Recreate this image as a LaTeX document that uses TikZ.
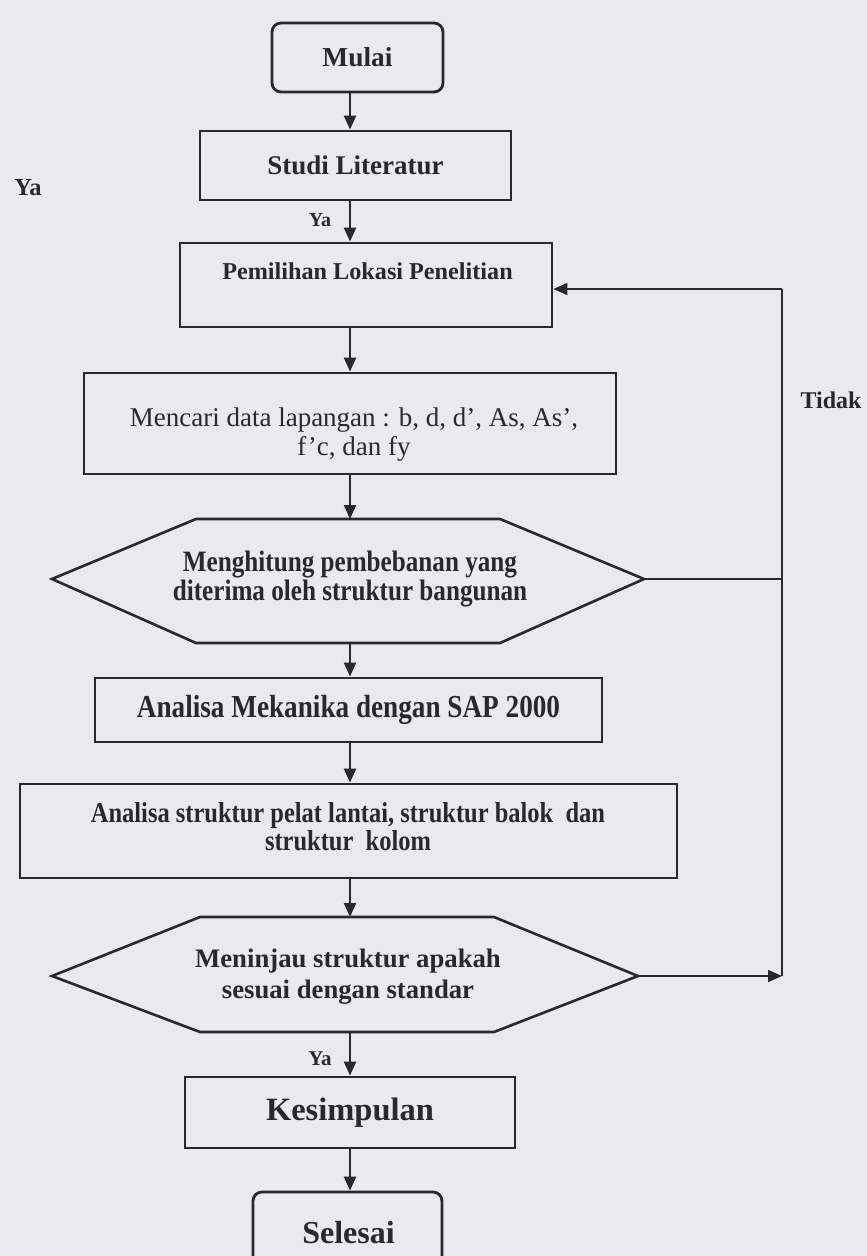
\documentclass[tikz,border=0pt]{standalone}
\usepackage{fontspec}
\setmainfont{Liberation Serif}
\newfontfamily\condfont[FakeStretch=0.85]{Liberation Serif}
\usetikzlibrary{arrows.meta,calc}
\definecolor{paper}{RGB}{234,234,238}
\definecolor{ink}{RGB}{40,40,45}
\begin{document}
\begin{tikzpicture}[x=1pt,y=-1pt,
  box/.style={draw=ink,line width=2.8pt,inner sep=0pt,text=ink,align=center},
  rbox/.style={box,rounded corners=9pt},
  hexline/.style={draw=ink,line width=2.6pt,line join=miter},
  arr/.style={draw=ink,line width=2.2pt,-{Triangle[length=14pt,width=12pt]}},
  arrthin/.style={draw=ink,line width=1.8pt,-{Triangle[length=14pt,width=12pt]}},
  thinline/.style={draw=ink,line width=1.8pt},
  txt/.style={text=ink,align=center,inner sep=0pt},
  lab/.style={text=ink,inner sep=0pt,font=\fontsize{20}{24}\selectfont\bfseries}
]
\useasboundingbox (0,0) rectangle (867,1256);
\fill[paper] (0,0) rectangle (867,1256);
\clip (0,0) rectangle (867,1256);

\coordinate (sp) at (350,0);

% boxes
\node[rbox,minimum width=171pt,minimum height=69pt,font=\fontsize{27.4}{32}\selectfont\bfseries] (mulai) at (357.5,57.5) {Mulai};
\node[box,minimum width=311pt,minimum height=69pt,font=\fontsize{27}{32}\selectfont\bfseries] (studi) at (355.5,165.5) {Studi Literatur};
\node[box,minimum width=372pt,minimum height=84pt] (pemilihan) at (366,285) {};
\node[txt,font=\fontsize{24.2}{29}\selectfont\bfseries] (pemilihantxt) at (367.5,271) {Pemilihan Lokasi Penelitian};
\node[box,minimum width=532pt,minimum height=101pt] (mencari) at (350,423.5) {};
\node[txt,font=\fontsize{27}{29}\selectfont] (mencaritxt) at (354,435) {Mencari data lapangan : b, d, d’, As, As’,\\f’c, dan fy};

% hexagon 1
\coordinate (h1l) at (52,579);
\coordinate (h1tl) at (196,519);
\coordinate (h1tr) at (500,519);
\coordinate (h1r) at (644,579);
\coordinate (h1br) at (500,643);
\coordinate (h1bl) at (196,643);
\draw[hexline] (h1l) -- (h1tl) -- (h1tr) -- (h1r) -- (h1br) -- (h1bl) -- cycle;
\node[txt,font=\condfont\fontsize{29.6}{27}\selectfont\bfseries] (hitung) at (350,579) {Menghitung pembebanan yang\\diterima oleh struktur bangunan};

\node[box,minimum width=507pt,minimum height=64pt,font=\condfont\fontsize{32}{32}\selectfont\bfseries] (mekanika) at (348.5,710) {Analisa Mekanika dengan SAP 2000};
\node[box,minimum width=657pt,minimum height=94pt] (struktur) at (348.5,831) {};
\node[txt,font=\condfont\fontsize{28.8}{28}\selectfont\bfseries] (strukturtxt) at (348,827) {Analisa struktur pelat lantai, struktur balok\ \ dan\\struktur\ \ kolom};

% hexagon 2
\coordinate (h2l) at (52,976);
\coordinate (h2tl) at (200,917);
\coordinate (h2tr) at (494,917);
\coordinate (h2r) at (638,976);
\coordinate (h2br) at (494,1032);
\coordinate (h2bl) at (200,1032);
\draw[hexline] (h2l) -- (h2tl) -- (h2tr) -- (h2r) -- (h2br) -- (h2bl) -- cycle;
\node[txt,font=\fontsize{26.7}{31}\selectfont\bfseries] (tinjau) at (348,977) {Meninjau struktur apakah\\sesuai dengan standar};

\node[box,minimum width=330pt,minimum height=71pt,font=\fontsize{32.5}{36}\selectfont\bfseries] (kesimpulan) at (350,1112.5) {Kesimpulan};
\node[rbox,minimum width=189pt,minimum height=78pt] (selesai) at (347.5,1231) {};
\node[txt,font=\fontsize{32}{36}\selectfont\bfseries] (selesaitxt) at (348.5,1233) {Selesai};

% main arrows
\draw[arr] (mulai.south -| sp) -- (studi.north -| sp);
\draw[arr] (studi.south -| sp) -- (pemilihan.north -| sp);
\draw[arr] (pemilihan.south -| sp) -- (mencari.north -| sp);
\draw[arr] (mencari.south -| sp) -- (h1tl -| sp);
\draw[arr] (h1bl -| sp) -- (mekanika.north -| sp);
\draw[arr] (mekanika.south -| sp) -- (struktur.north -| sp);
\draw[arr] (struktur.south -| sp) -- (h2tl -| sp);
\draw[arr] (h2bl -| sp) -- (kesimpulan.north -| sp);
\draw[arr] (kesimpulan.south -| sp) -- (selesai.north -| sp);

% feedback loop
\coordinate (rb) at (782,976);
\coordinate (rt) at (782,289);
\coordinate (rm) at (782,579);
\draw[arrthin] (h2r) -- (rb);
\draw[thinline] (rb) -- (rt);
\draw[arrthin] (rt) -- (rt -| pemilihan.east);
\draw[thinline] (h1r) -- (rm);

% labels
\node[lab] (ya1) at (320,220) {Ya};
\node[lab,font=\fontsize{21}{24}\selectfont\bfseries] (ya2) at (320,1059) {Ya};
\node[lab,font=\fontsize{24.5}{28}\selectfont\bfseries] (ya3) at (28,188) {Ya};
\node[lab,font=\fontsize{24}{28}\selectfont\bfseries] (tidak) at (831,400) {Tidak};
\end{tikzpicture}
\end{document}
